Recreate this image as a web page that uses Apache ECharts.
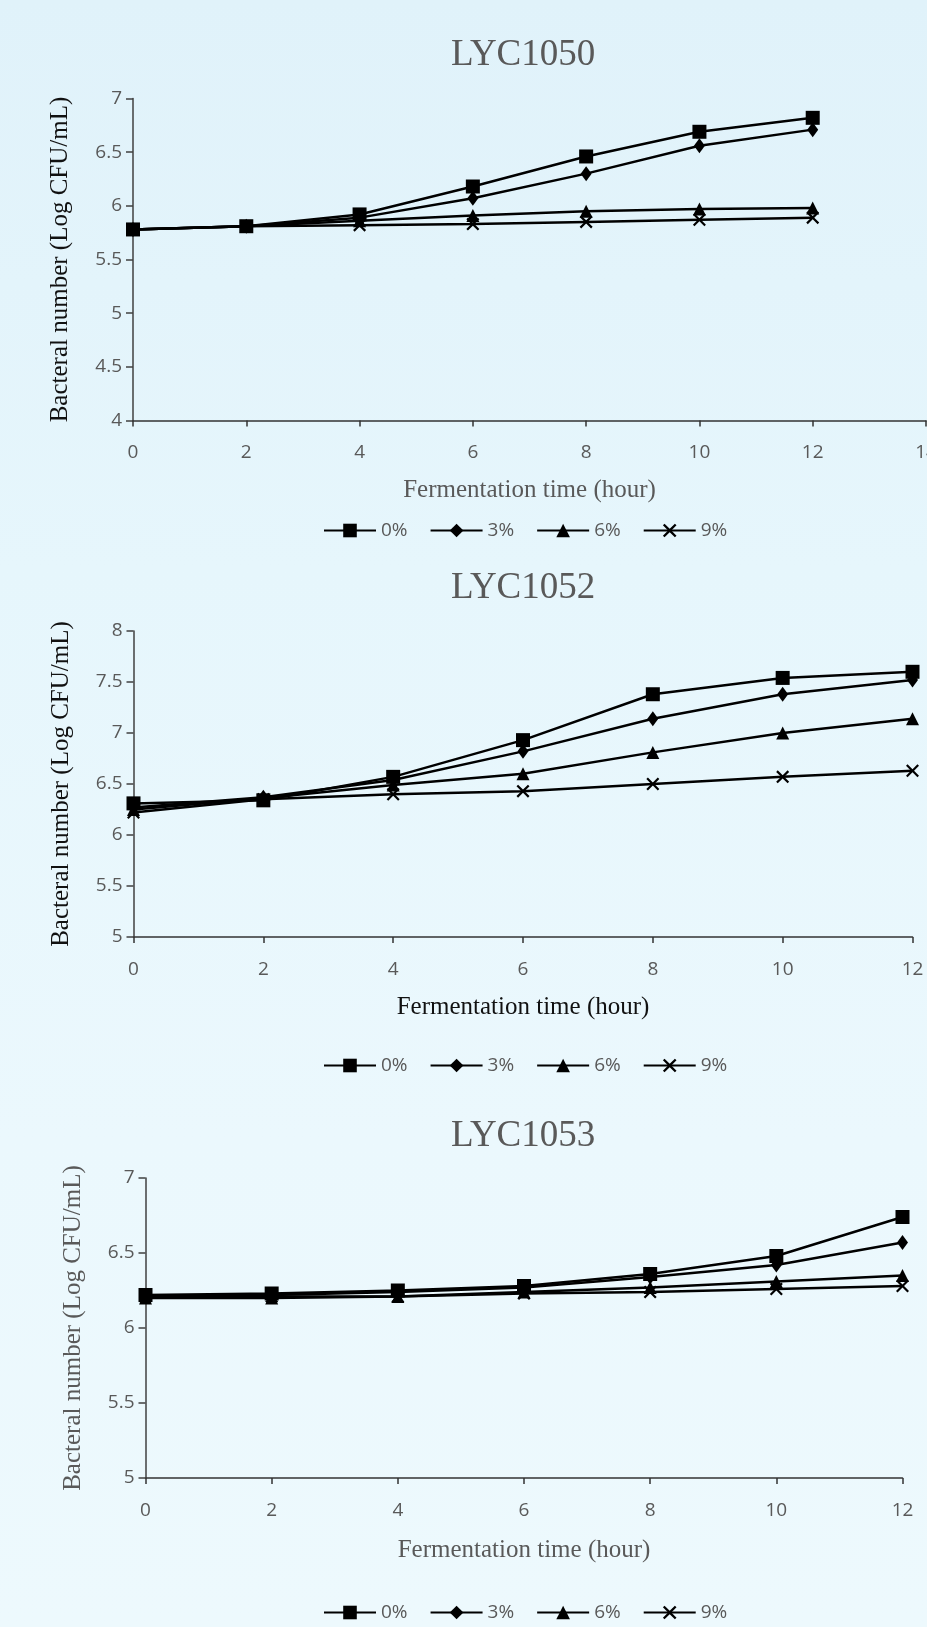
<!DOCTYPE html>
<html>
<head>
<meta charset="utf-8">
<script src="https://cdn.jsdelivr.net/npm/echarts@6/dist/echarts.min.js"></script>
<style>
  html, body { margin: 0; padding: 0; }
  body { background: linear-gradient(180deg, #e0f2fa 0%, #e6f6fc 35%, #ebf8fd 70%, #edf9fd 100%); }
  #main { width: 927px; height: 1627px; }
</style>
</head>
<body>
<div id="main"></div>
<script>
// x values (hours)
var hours = [0, 2, 4, 6, 8, 10, 12];
var seriesNames = ['0%', '3%', '6%', '9%'];
var titles = ['LYC1050', 'LYC1052', 'LYC1053'];

// LYC1050
var lyc1050_0 = [5.78, 5.81, 5.92, 6.18, 6.46, 6.69, 6.82];
var lyc1050_3 = [5.78, 5.81, 5.89, 6.07, 6.30, 6.56, 6.71];
var lyc1050_6 = [5.78, 5.81, 5.86, 5.91, 5.95, 5.97, 5.98];
var lyc1050_9 = [5.78, 5.81, 5.82, 5.83, 5.85, 5.87, 5.89];

// LYC1052
var lyc1052_0 = [6.31, 6.34, 6.57, 6.93, 7.38, 7.54, 7.60];
var lyc1052_3 = [6.27, 6.37, 6.54, 6.82, 7.14, 7.38, 7.52];
var lyc1052_6 = [6.25, 6.36, 6.49, 6.60, 6.81, 7.00, 7.14];
var lyc1052_9 = [6.22, 6.35, 6.40, 6.43, 6.50, 6.57, 6.63];

// LYC1053
var lyc1053_0 = [6.22, 6.23, 6.25, 6.28, 6.36, 6.48, 6.74];
var lyc1053_3 = [6.21, 6.22, 6.24, 6.27, 6.34, 6.42, 6.57];
var lyc1053_6 = [6.20, 6.20, 6.21, 6.24, 6.27, 6.31, 6.35];
var lyc1053_9 = [6.21, 6.21, 6.21, 6.23, 6.24, 6.26, 6.28];

var chartData = [
  [lyc1050_0, lyc1050_3, lyc1050_6, lyc1050_9],
  [lyc1052_0, lyc1052_3, lyc1052_6, lyc1052_9],
  [lyc1053_0, lyc1053_3, lyc1053_6, lyc1053_9]
];

// axis ranges per chart
var xMax = [14, 12, 12];
var yMin = [4, 5, 5];
var yMax = [7, 8, 7];

// layout (pixels)
var grids = [
  {left: 133, top: 98.5, width: 793, height: 322, outerBoundsMode: 'none'},
  {left: 133.5, top: 631, width: 779, height: 306, outerBoundsMode: 'none'},
  {left: 145.5, top: 1178, width: 757, height: 300, outerBoundsMode: 'none'}
];
var titleTops = [32, 565, 1113];
var legendTops = [516, 1051, 1598];
var xNameColor = ['#595959', '#111', '#595959'];
var yNameColor = ['#111', '#111', '#595959'];
var yNameGap = [60, 60, 60];
var xNameGap = [57, 58, 60];

var crossPath = 'path://M0,1.2L1.2,0L5,3.8L8.8,0L10,1.2L6.2,5L10,8.8L8.8,10L5,6.2L1.2,10L0,8.8L3.8,5Z';
var symbols = ['rect', 'diamond', 'triangle', crossPath];
var symbolSizes = [14, [11, 15], 13, 13];

var sans = '"Open Sans", "Noto Sans", sans-serif';
var serif = '"Liberation Serif", "DejaVu Serif", serif';

var option = {
  animation: false,
  backgroundColor: 'transparent',
  title: [],
  legend: [],
  grid: [],
  xAxis: [],
  yAxis: [],
  series: []
};

for (var c = 0; c < 3; c++) {
  option.title.push({
    text: titles[c],
    left: 446,
    top: titleTops[c],
    textStyle: {fontFamily: serif, fontSize: 37, fontWeight: 'normal', color: '#595959'}
  });
  option.legend.push({
    data: seriesNames,
    left: 318,
    top: legendTops[c],
    itemWidth: 52,
    itemHeight: 17,
    itemGap: 22,
    textStyle: {fontFamily: sans, fontSize: 19, color: '#595959'}
  });
  option.grid.push(grids[c]);
  option.xAxis.push({
    type: 'value',
    gridIndex: c,
    min: 0,
    max: xMax[c],
    interval: 2,
    name: 'Fermentation time (hour)',
    nameLocation: 'middle',
    nameGap: xNameGap[c],
    nameTextStyle: {fontFamily: serif, fontSize: 25, color: xNameColor[c]},
    axisLine: {lineStyle: {color: '#333', width: 1.5}},
    axisTick: {show: true, length: 6, lineStyle: {color: '#333', width: 1.5}},
    axisLabel: {fontFamily: sans, fontSize: 19, color: '#595959', margin: 23},
    splitLine: {show: false}
  });
  option.yAxis.push({
    type: 'value',
    gridIndex: c,
    min: yMin[c],
    max: yMax[c],
    interval: 0.5,
    name: 'Bacteral number (Log CFU/mL)',
    nameLocation: 'middle',
    nameGap: yNameGap[c],
    nameTextStyle: {fontFamily: serif, fontSize: 25, color: yNameColor[c]},
    axisLine: {show: true, lineStyle: {color: '#404040', width: 1.5}},
    axisTick: {show: true, length: 7, lineStyle: {color: '#404040', width: 1.5}},
    axisLabel: {fontFamily: sans, fontSize: 19, color: '#595959', margin: 11},
    splitLine: {show: false}
  });
  for (var s = 0; s < 4; s++) {
    var vals = chartData[c][s];
    var pts = [];
    for (var i = 0; i < hours.length; i++) {
      pts.push([hours[i], vals[i]]);
    }
    option.series.push({
      name: seriesNames[s],
      type: 'line',
      xAxisIndex: c,
      yAxisIndex: c,
      data: pts,
      symbol: symbols[s],
      symbolSize: symbolSizes[s],
      showAllSymbol: true,
      color: '#000',
      lineStyle: {color: '#000', width: 2.5},
      itemStyle: {color: '#000'}
    });
  }
}

var myChart = echarts.init(document.getElementById('main'));
myChart.setOption(option);
</script>
</body>
</html>
